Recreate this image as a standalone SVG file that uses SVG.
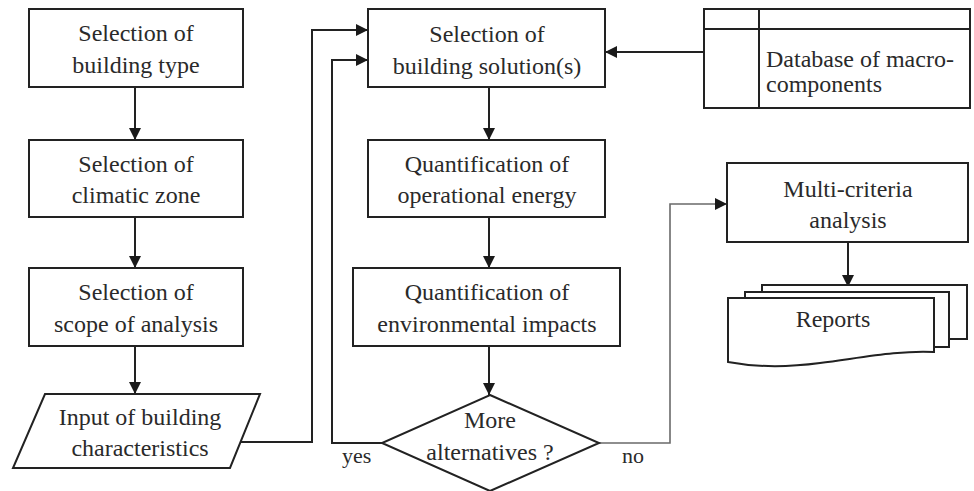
<svg xmlns="http://www.w3.org/2000/svg" width="974" height="491" viewBox="0 0 974 491">
  <defs>
    <marker id="arr" markerUnits="userSpaceOnUse" markerWidth="12" markerHeight="12" refX="12" refY="6" orient="auto">
      <path d="M0,0 L12,6 L0,12 z" fill="#1a1a1a"/>
    </marker>
    <style>
      .box { fill: #ffffff; stroke: #222222; stroke-width: 2; }
      .conn { fill: none; stroke: #222222; stroke-width: 2; }
      .thin { fill: none; stroke: #6a6a6a; stroke-width: 1.6; }
      .t { text-anchor: middle; }
      .lbl { font-size: 22px; }
    </style>
  </defs>
  <rect width="974" height="491" fill="#ffffff"/>

  <g id="connectors">
    <line class="conn" x1="135" y1="87" x2="135" y2="140" marker-end="url(#arr)"/>
    <line class="conn" x1="135" y1="217" x2="135" y2="268" marker-end="url(#arr)"/>
    <line class="conn" x1="135" y1="346" x2="135" y2="394" marker-end="url(#arr)"/>
    <polyline class="conn" points="241,442 312,442 312,30 368,30" marker-end="url(#arr)"/>
    <polyline class="conn" points="382,443 332,443 332,60 368,60" marker-end="url(#arr)"/>
    <line class="conn" x1="704" y1="52" x2="605" y2="52" marker-end="url(#arr)"/>
    <line class="conn" x1="489" y1="87" x2="489" y2="140" marker-end="url(#arr)"/>
    <line class="conn" x1="489" y1="217" x2="489" y2="268" marker-end="url(#arr)"/>
    <line class="conn" x1="489" y1="346" x2="489" y2="395" marker-end="url(#arr)"/>
    <polyline class="thin" points="599,443 670,443 670,204 727,204" marker-end="url(#arr)"/>
    <line class="conn" x1="848" y1="242" x2="848" y2="287" marker-end="url(#arr)"/>
  </g>

  <g font-family="Liberation Serif, Times New Roman, Tinos, Noto Serif, DejaVu Serif, FreeSerif, serif" font-size="24" fill="#2a2a2a">
  <g id="building-type">
    <rect class="box" x="29" y="9" width="214" height="78"/>
    <text class="t" x="136" y="41">Selection of</text>
    <text class="t" x="136" y="73">building type</text>
  </g>
  <g id="climatic-zone">
    <rect class="box" x="29" y="140" width="214" height="77"/>
    <text class="t" x="136" y="172">Selection of</text>
    <text class="t" x="136" y="203">climatic zone</text>
  </g>
  <g id="scope">
    <rect class="box" x="29" y="268" width="214" height="78"/>
    <text class="t" x="136" y="300">Selection of</text>
    <text class="t" x="136" y="332">scope of analysis</text>
  </g>
  <g id="input">
    <polygon class="box" points="45,394 260,394 230,468 13,468"/>
    <text class="t" x="140" y="425">Input of building</text>
    <text class="t" x="140" y="456">characteristics</text>
  </g>

  <g id="building-solution">
    <rect class="box" x="368" y="9" width="237" height="78"/>
    <text class="t" x="487" y="42">Selection of</text>
    <text class="t" x="487" y="74">building solution(s)</text>
  </g>
  <g id="operational-energy">
    <rect class="box" x="368" y="140" width="237" height="77"/>
    <text class="t" x="487" y="172">Quantification of</text>
    <text class="t" x="487" y="203">operational energy</text>
  </g>
  <g id="environmental-impacts">
    <rect class="box" x="353" y="268" width="267" height="78"/>
    <text class="t" x="487" y="300">Quantification of</text>
    <text class="t" x="487" y="332">environmental impacts</text>
  </g>
  <g id="decision">
    <polygon class="box" points="490,395 599,443 490,491 382,443"/>
    <text class="t" x="490" y="428">More</text>
    <text class="t" x="490" y="460">alternatives ?</text>
    <text class="lbl" x="342" y="463">yes</text>
    <text class="lbl" x="622" y="463">no</text>
  </g>

  <g id="database">
    <rect class="box" x="704" y="9" width="266" height="99"/>
    <line class="conn" x1="704" y1="29" x2="970" y2="29"/>
    <line class="conn" x1="759" y1="9" x2="759" y2="108"/>
    <text x="766" y="67">Database of macro-</text>
    <text x="766" y="92">components</text>
  </g>

  <g id="multi-criteria">
    <rect class="box" x="727" y="163" width="241" height="79"/>
    <text class="t" x="848" y="197">Multi-criteria</text>
    <text class="t" x="848" y="228">analysis</text>
  </g>

  <g id="reports">
    <rect class="box" x="762" y="285" width="205" height="54"/>
    <rect class="box" x="745" y="292" width="204" height="55"/>
    <path class="box" d="M728,298 L934,298 L934,352 C900,350 860,358 820,363 C790,367 760,368 728,362 Z"/>
    <text class="t" x="833" y="327">Reports</text>
  </g>
  </g>
</svg>
